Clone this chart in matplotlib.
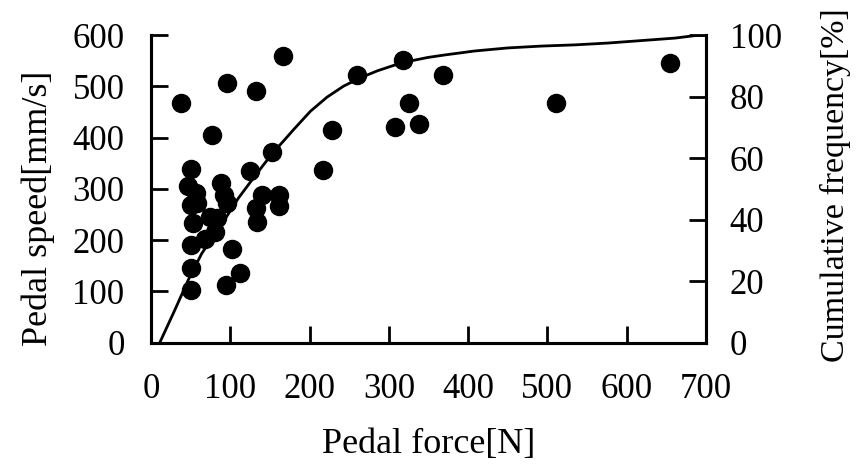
import matplotlib
matplotlib.use('Agg')
from matplotlib import pyplot as plt

# scatter: pedal force [N] vs pedal speed [mm/s]
force = [38, 96, 132, 167, 77, 51, 47, 57, 51, 58, 53, 75, 83, 81, 68, 50, 50, 50,
         88, 92, 96, 102, 112, 94, 125, 153, 140, 132, 134, 161, 161, 217, 228,
         260, 318, 325, 308, 338, 368, 511, 655]
speed = [468, 506, 491, 559, 406, 338, 305, 292, 268, 272, 233, 246, 243, 216, 203,
         190, 145, 103, 312, 288, 272, 182, 135, 112, 335, 372, 288, 262, 236, 289,
         266, 337, 415, 523, 552, 467, 421, 426, 522, 467, 545]

# cumulative frequency curve [%]
cum_force = [11, 30, 47, 64, 90, 110, 132, 153, 168, 180, 201, 222, 243, 265, 286,
             307, 328, 349, 370, 408, 450, 492, 535, 577, 619, 661, 686, 700]
cum_freq = [0, 10.6, 20.4, 29, 38.8, 46.9, 54.5, 61.5, 65.8, 69.3, 75.2, 79.8, 83.4,
            86.2, 88.4, 90.2, 91.6, 92.7, 93.5, 94.8, 95.8, 96.4, 96.8, 97.4, 98.2,
            99.0, 99.8, 100]

plt.rcParams['font.family'] = ['Liberation Serif', 'DejaVu Serif']
plt.rcParams['font.size'] = 26

fig = plt.figure(figsize=(8.59, 4.65), dpi=100)
ax = fig.add_axes([0.1758, 0.263, 0.646, 0.6617])
ax2 = ax.twinx()

ax.plot(force, speed, 'o', color='black', markersize=13, clip_on=False)
ax2.plot(cum_force, cum_freq, color='black', linewidth=2.0)

ax.set_xlim(0, 700)
ax.set_ylim(0, 600)
ax2.set_ylim(0, 100)
ax.set_xticks(range(0, 701, 100))
ax.set_yticks(range(0, 601, 100))
ax2.set_yticks(range(0, 101, 20))

for a in (ax, ax2):
    a.spines['top'].set_visible(False)
    for s in a.spines.values():
        s.set_linewidth(2.2)
ax.tick_params(axis='x', direction='in', length=12, width=2, pad=22, labelsize=25)
ax.tick_params(axis='y', direction='in', length=12, width=2, pad=19, labelsize=25)
ax2.tick_params(axis='y', direction='in', length=12, width=2, pad=17, labelsize=25)

ax.set_xlabel('Pedal force[N]')
ax.set_ylabel('Pedal speed[mm/s]')
ax2.set_ylabel('Cumulative frequency[%]', fontsize=24.5)
ax.xaxis.set_label_coords(0.5, -0.277)
ax.yaxis.set_label_coords(-0.173, 0.438)
ax2.yaxis.set_label_coords(1.205, 0.513)

fig.savefig('out.png', dpi=100)
